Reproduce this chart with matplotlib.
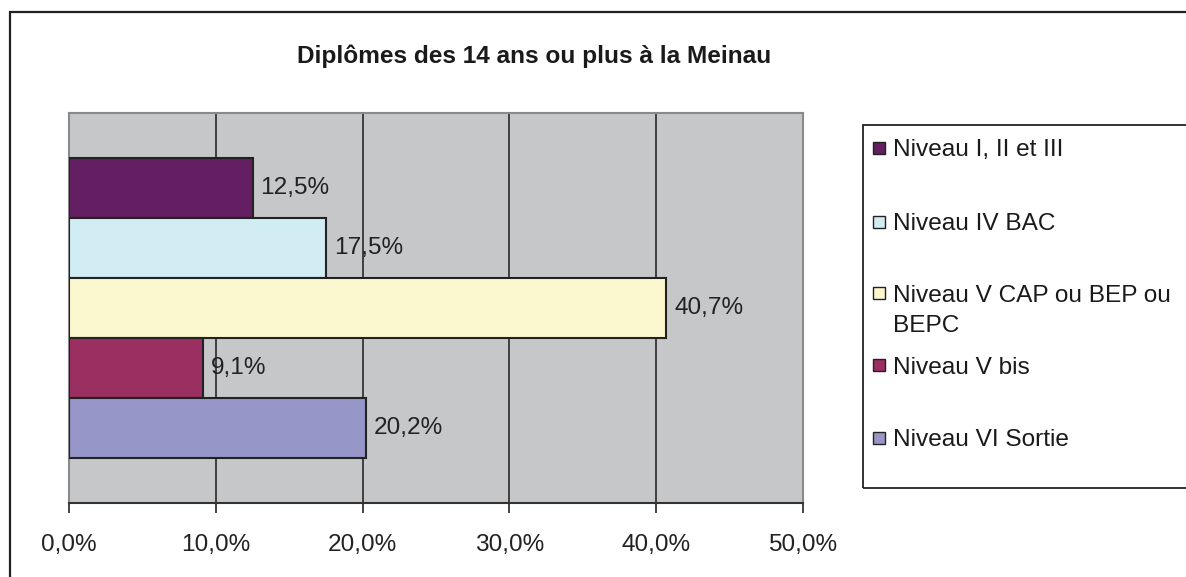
import matplotlib.pyplot as plt
from matplotlib.patches import Rectangle
import numpy as np

plt.rcParams['font.family'] = ['Liberation Sans', 'DejaVu Sans']

title = "Diplômes des 14 ans ou plus à la Meinau"
niveaux = ["Niveau I, II et III", "Niveau IV BAC", "Niveau V CAP ou BEP ou\nBEPC",
           "Niveau V bis", "Niveau VI Sortie"]
parts = [12.5, 17.5, 40.7, 9.1, 20.2]
couleurs = ["#631F61", "#D1ECF2", "#FBF8D0", "#9A2F62", "#9696C8"]
xticks = [0, 10, 20, 30, 40, 50]

W, H = 1186, 577
fig = plt.figure(figsize=(W / 100, H / 100), dpi=100)
fs = 17.6

# plot area in pixels: x 69..803, y 113..503
ax = fig.add_axes([69 / W, 1 - 503 / H, (803 - 69) / W, (503 - 113) / H])
ax.set_facecolor("#C6C7C9")

pos = np.arange(len(parts))[::-1]
bars = ax.barh(pos, parts, height=1.0, color=couleurs, edgecolor="#222222",
               linewidth=1.5, zorder=3)
for b, v in zip(bars, parts):
    ax.annotate(f"{v:.1f}%".replace(".", ","), (b.get_width(), b.get_y() + b.get_height() / 2),
                xytext=(8, 0), textcoords="offset pixels", va="center", ha="left",
                fontsize=fs, color="#222222", zorder=4)

ax.set_xlim(0, 50)
ax.set_ylim(-1.25, 5.25)
ax.set_xticks(xticks)
ax.set_xticklabels([f"{t:.1f}%".replace(".", ",") for t in xticks], fontsize=fs, color="#222222")
ax.set_yticks([])
for t in xticks[1:-1]:
    ax.axvline(t, color="#1a1a1a", lw=1.1, zorder=1)
ax.tick_params(axis="x", direction="out", length=7, width=1.2, color="#222222", pad=15)
for s in ["left", "top", "right"]:
    ax.spines[s].set_color("#8a8a8a")
    ax.spines[s].set_linewidth(1.5)
ax.spines["bottom"].set_color("#333333")
ax.spines["bottom"].set_linewidth(1.5)

# title
fig.text(534 / W, 1 - 56 / H, title, ha="center", va="center", fontsize=fs,
         fontweight="bold", color="#1a1a1a")

# outer chart border (open at right and bottom)
fig.add_artist(Rectangle((10 / W, -0.2), 1.2, 1.2 - 12 / H, transform=fig.transFigure,
                         fill=False, edgecolor="#222222", lw=1.6))

# legend box
fig.add_artist(Rectangle((863 / W, 1 - 488 / H), 1.0, (488 - 125) / H, transform=fig.transFigure,
                         fill=False, edgecolor="#222222", lw=1.3))
leg_y = [148, 222, 293, 365, 438]
for lab, c, y in zip(niveaux, couleurs, leg_y):
    fig.add_artist(Rectangle((873 / W, 1 - (y + 6) / H), 12 / W, 12 / H, transform=fig.transFigure,
                             facecolor=c, edgecolor="#222222", lw=1.0))
    for k, line in enumerate(lab.split("\n")):
        fig.text(893 / W, 1 - (y + 8.5 + 30 * k) / H, line, ha="left", va="baseline",
                 fontsize=fs, color="#1a1a1a")

fig.savefig("out.png", dpi=100)
